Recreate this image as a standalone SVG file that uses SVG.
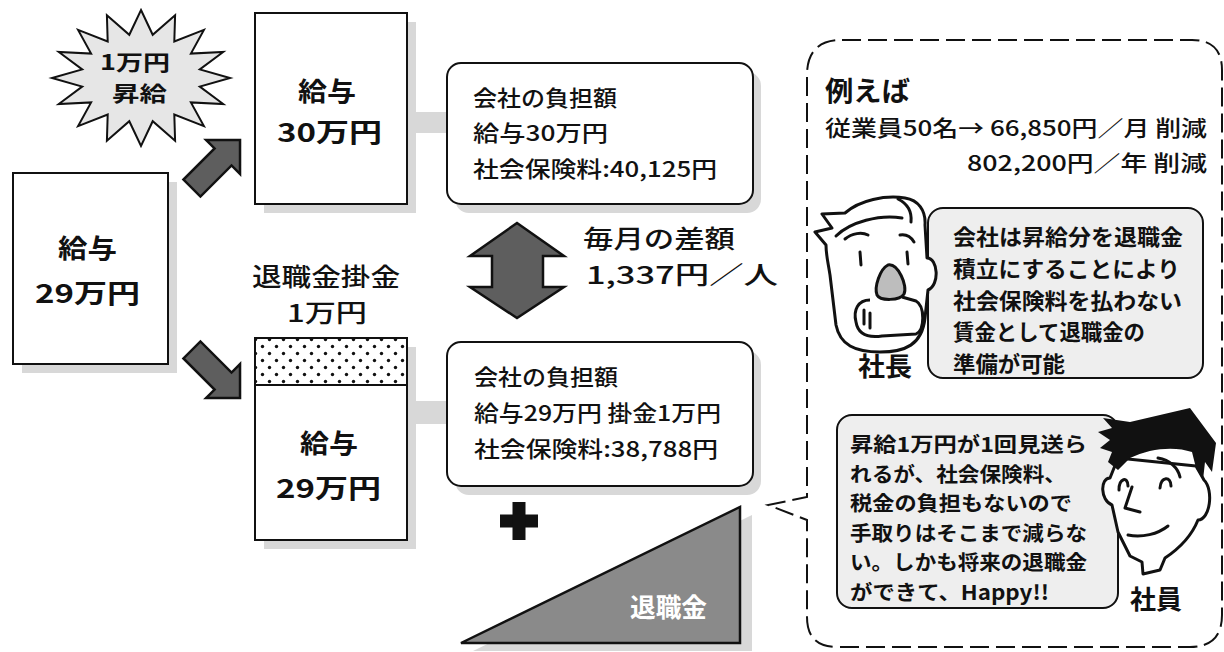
<svg xmlns="http://www.w3.org/2000/svg" width="1224" height="652" viewBox="0 0 1224 652">
  <style>
    text { font-family: "Noto Sans CJK JP", "Noto Sans", sans-serif; fill: #111; }
    .b { font-weight: bold; }
    .m { font-weight: 500; }
    .box { fill: #fff; stroke: #111; stroke-width: 2; }
    .shadow { fill: #d8d8d8; }
    .arrow { fill: #5e5e5e; stroke: #111; stroke-width: 2.5; stroke-linejoin: miter; }
    .ink { fill: none; stroke: #111; stroke-width: 3; stroke-linecap: round; stroke-linejoin: round; }
    .bubble { fill: #eeeeee; stroke: #111; stroke-width: 2; }
  </style>
  <defs>
    <pattern id="dots" width="14" height="14" patternUnits="userSpaceOnUse">
      <rect width="14" height="14" fill="#fff"/>
      <circle cx="3.5" cy="3.5" r="1.7" fill="#111"/>
      <circle cx="10.5" cy="10.5" r="1.7" fill="#111"/>
    </pattern>
  </defs>

  <rect width="1224" height="652" fill="#fff"/>

  <!-- connectors: bands, corner arrows, double arrow -->
  <g id="connectors">
    <rect class="shadow" x="406" y="112" width="42" height="21"/>
    <rect class="shadow" x="406" y="401" width="42" height="23"/>
    <path class="arrow" transform="translate(217.4,162.6) rotate(-45)" d="M32,0 L8,-24 L8,-12 L-36,-12 L-36,12 L8,12 L8,24 Z"/>
    <path class="arrow" transform="translate(217.4,375.4) rotate(45)" d="M32,0 L8,-24 L8,-12 L-36,-12 L-36,12 L8,12 L8,24 Z"/>
    <path class="arrow" d="M517,223 L564,256 L543,256 L543,287 L564,287 L517,318 L470,287 L492,287 L492,256 L470,256 Z"/>
  </g>

  <!-- starburst: raise -->
  <g id="raise">
    <polygon fill="#e6e6e6" stroke="#111" stroke-width="2" stroke-linejoin="miter" points="141,10 152.7,34.8 175.1,15.2 174.3,41.4 203.9,29.9 190.9,53.6 223.2,52 199.8,69.4 230,78 199.8,86.6 223.2,104 190.9,102.4 203.9,126.1 174.3,114.6 175.1,140.8 152.7,121.2 141,146 129.3,121.2 106.9,140.8 107.7,114.6 78.1,126.1 91.1,102.4 58.8,104 82.2,86.6 52,78 82.2,69.4 58.8,52 91.1,53.6 78.1,29.9 107.7,41.4 106.9,15.2 129.3,34.8"/>
    <text class="b" x="100" y="70" font-size="21" textLength="70" lengthAdjust="spacingAndGlyphs">1万円</text>
    <text class="b" x="112" y="101" font-size="21" textLength="55" lengthAdjust="spacingAndGlyphs">昇給</text>
  </g>

  <!-- salary before raise -->
  <g id="salary-29-before">
    <rect class="shadow" x="22" y="182" width="155" height="191"/>
    <rect class="box" x="13" y="173" width="155" height="191"/>
    <text class="b" x="58" y="258" font-size="26" textLength="59" lengthAdjust="spacingAndGlyphs">給与</text>
    <text class="b" x="35" y="303" font-size="26" textLength="105" lengthAdjust="spacingAndGlyphs">29万円</text>
  </g>

  <!-- salary after raise -->
  <g id="salary-30">
    <rect class="shadow" x="264" y="22" width="152" height="191"/>
    <rect class="box" x="255" y="13" width="152" height="191"/>
    <text class="b" x="298" y="101" font-size="26" textLength="58" lengthAdjust="spacingAndGlyphs">給与</text>
    <text class="b" x="277" y="142" font-size="26" textLength="105" lengthAdjust="spacingAndGlyphs">30万円</text>
  </g>

  <!-- salary with retirement contribution -->
  <g id="salary-29-plan">
    <text class="m" x="252" y="286" font-size="24.5" textLength="148" lengthAdjust="spacingAndGlyphs">退職金掛金</text>
    <text class="m" x="287" y="322" font-size="24.5" textLength="80" lengthAdjust="spacingAndGlyphs">1万円</text>
    <rect class="shadow" x="264" y="347" width="152" height="202"/>
    <rect class="box" x="255" y="338" width="152" height="202"/>
    <rect x="255" y="338" width="152" height="47" fill="url(#dots)" stroke="#111" stroke-width="2"/>
    <text class="b" x="300" y="453" font-size="26" textLength="58" lengthAdjust="spacingAndGlyphs">給与</text>
    <text class="b" x="276" y="498" font-size="26" textLength="105" lengthAdjust="spacingAndGlyphs">29万円</text>
  </g>

  <!-- company cost, raise case -->
  <g id="cost-raise">
    <rect class="shadow" x="455" y="72" width="306" height="141" rx="14"/>
    <rect class="box" x="447" y="63" width="306" height="141" rx="14"/>
    <text class="m" x="473" y="106" font-size="22" textLength="144" lengthAdjust="spacingAndGlyphs">会社の負担額</text>
    <text class="m" x="473" y="141" font-size="22" textLength="135" lengthAdjust="spacingAndGlyphs">給与30万円</text>
    <text class="m" x="473" y="177" font-size="22" textLength="244" lengthAdjust="spacingAndGlyphs">社会保険料:40,125円</text>
  </g>

  <!-- monthly difference -->
  <g id="difference">
    <text class="m" x="583" y="248" font-size="24.5" textLength="152" lengthAdjust="spacingAndGlyphs">毎月の差額</text>
    <text class="m" x="586" y="284" font-size="24.5" textLength="192" lengthAdjust="spacingAndGlyphs">1,337円／人</text>
  </g>

  <!-- company cost, contribution case -->
  <g id="cost-plan">
    <rect class="shadow" x="455" y="351" width="306" height="144" rx="14"/>
    <rect class="box" x="447" y="342" width="306" height="144" rx="14"/>
    <text class="m" x="474" y="385" font-size="22" textLength="144" lengthAdjust="spacingAndGlyphs">会社の負担額</text>
    <text class="m" x="474" y="421" font-size="22" textLength="247" lengthAdjust="spacingAndGlyphs">給与29万円 掛金1万円</text>
    <text class="m" x="474" y="457" font-size="22" textLength="244" lengthAdjust="spacingAndGlyphs">社会保険料:38,788円</text>
  </g>

  <!-- plus sign -->
  <g id="plus">
    <rect x="500" y="514.5" width="38" height="13" fill="#111"/>
    <rect x="512.5" y="502" width="13" height="38" fill="#111"/>
  </g>

  <!-- growing retirement fund -->
  <g id="retirement-fund">
    <polygon class="shadow" points="473,651 752,515 752,651"/>
    <polygon fill="#8a8a8a" stroke="#111" stroke-width="2.5" stroke-linejoin="miter" points="461,643 740,507 740,643"/>
    <text class="b" x="630" y="617" font-size="26" style="fill:#fff" textLength="77" lengthAdjust="spacingAndGlyphs">退職金</text>
  </g>

  <!-- example callout -->
  <g id="example">
    <path d="M842,40 L1192,40 Q1222,40 1222,70 L1222,615 Q1222,647 1190,647 L837,647 Q807,647 807,617 L807,520 L768,505 L807,497 L807,75 Q807,40 842,40 Z" fill="#fff" stroke="#111" stroke-width="2" stroke-dasharray="19 7"/>
    <text class="b" x="825" y="101" font-size="27" textLength="85" lengthAdjust="spacingAndGlyphs">例えば</text>
    <text class="m" x="825" y="136" font-size="22" textLength="382" lengthAdjust="spacingAndGlyphs">従業員50名→ 66,850円／月 削減</text>
    <text class="m" x="967" y="171" font-size="22" textLength="240" lengthAdjust="spacingAndGlyphs">802,200円／年 削減</text>
  </g>

  <!-- president and comment -->
  <g id="president">
    <rect class="bubble" x="928" y="208" width="275" height="170" rx="15"/>
    <text class="b" x="953" y="245" font-size="21.5" textLength="230" lengthAdjust="spacingAndGlyphs">会社は昇給分を退職金</text>
    <text class="b" x="953" y="277" font-size="21.5" textLength="227" lengthAdjust="spacingAndGlyphs">積立にすることにより</text>
    <text class="b" x="953" y="308.5" font-size="21.5" textLength="229" lengthAdjust="spacingAndGlyphs">社会保険料を払わない</text>
    <text class="b" x="953" y="340" font-size="21.5" textLength="192" lengthAdjust="spacingAndGlyphs">賃金として退職金の</text>
    <text class="b" x="953" y="372" font-size="21.5" textLength="112" lengthAdjust="spacingAndGlyphs">準備が可能</text>
    <!-- face -->
    <path d="M826,245 L815,232 L832,228 L822,214 L845,213 C860,200 885,195 905,198 C918,200 926,210 925,225 L927,258 C938,258 940,285 928,290 L925,318 C922,345 905,352 880,352 C855,352 840,345 836,325 L830,275 C828,262 826,255 826,245 Z" fill="#fff" stroke="#111" stroke-width="3" stroke-linejoin="round"/>
    <path class="ink" d="M836,236 C850,222 880,214 902,218"/>
    <path class="ink" d="M898,199 C908,204 912,212 911,222"/>
    <path class="ink" d="M845,239 C852,233 862,232 868,235"/>
    <path class="ink" d="M900,235 C906,234 911,237 914,242"/>
    <path class="ink" d="M860,252 L861,265"/>
    <path class="ink" d="M907,252 L908,264"/>
    <path d="M870,300 C858,300 853,310 856,322 C858,334 868,338 882,336 L916,334 C925,330 925,306 916,301 L902,297" fill="#fff" stroke="#111" stroke-width="3" stroke-linejoin="round"/>
    <path d="M888,265 C880,269 874,287 877,295 C880,301 900,301 904,294 C908,286 898,263 888,265 Z" fill="#bdbdbd" stroke="#111" stroke-width="3"/>
    <path class="ink" d="M864,310 L864,324"/>
    <path class="ink" d="M870,313 L870,328"/>
    <text class="b" x="858" y="376" font-size="26" textLength="54" lengthAdjust="spacingAndGlyphs">社長</text>
  </g>

  <!-- employee and comment -->
  <g id="employee">
    <rect class="bubble" x="837" y="415" width="281" height="193" rx="15"/>
    <text class="b" x="850" y="452" font-size="20.4" textLength="237" lengthAdjust="spacingAndGlyphs">昇給1万円が1回見送ら</text>
    <text class="b" x="850" y="481.6" font-size="20.4" textLength="216" lengthAdjust="spacingAndGlyphs">れるが、社会保険料、</text>
    <text class="b" x="850" y="511.2" font-size="20.4" textLength="222" lengthAdjust="spacingAndGlyphs">税金の負担もないので</text>
    <text class="b" x="850" y="540.8" font-size="20.4" textLength="237" lengthAdjust="spacingAndGlyphs">手取りはそこまで減らな</text>
    <text class="b" x="850" y="570.4" font-size="20.4" textLength="237" lengthAdjust="spacingAndGlyphs">い。しかも将来の退職金</text>
    <text class="b" x="850" y="600" font-size="20.4" textLength="199" lengthAdjust="spacingAndGlyphs">ができて、Happy!!</text>
    <!-- face -->
    <path d="M1118,458 L1110,478 C1100,478 1100,500 1112,505 L1118,532 L1130,556 L1142,562 L1143,574 L1160,570 L1165,558 C1180,548 1192,535 1198,520 C1210,520 1214,490 1204,480 L1196,466 Z" fill="#fff" stroke="#111" stroke-width="3" stroke-linejoin="round"/>
    <path d="M1098,432 L1112,428 L1103,418 L1130,422 L1190,408 L1216,443 L1212,472 L1205,462 L1203,480 L1196,468 L1192,452 C1175,446 1150,448 1130,458 L1118,470 L1108,462 L1112,452 L1100,448 L1110,440 Z" fill="#111"/>
    <path class="ink" d="M1158,458 C1170,460 1178,468 1180,477"/>
    <path class="ink" d="M1119,490 C1119,478 1128,476 1128,486"/>
    <path class="ink" d="M1160,488 C1161,476 1171,476 1171,486"/>
    <path class="ink" d="M1132,487 L1125,508 L1140,512"/>
    <path class="ink" d="M1128,535 C1142,538 1158,534 1168,526"/>
    <text class="b" x="1130" y="609" font-size="26" textLength="52" lengthAdjust="spacingAndGlyphs">社員</text>
  </g>
</svg>
